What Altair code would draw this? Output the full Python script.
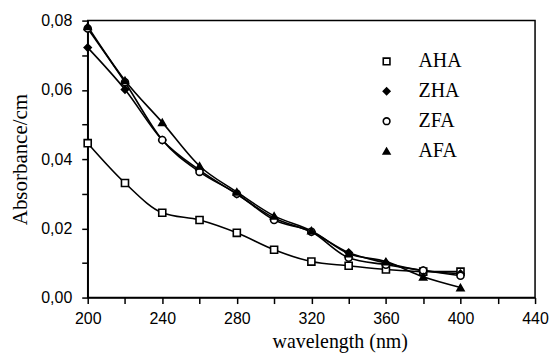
import altair as alt
import pandas as pd

wavelength = [200, 220, 240, 260, 280, 300, 320, 340, 360, 380, 400]
aha = [0.0446, 0.0331, 0.0245, 0.0224, 0.0187, 0.0138, 0.0104, 0.0092, 0.0081, 0.0075, 0.0075]
zha = [0.0722, 0.0601, 0.0455, 0.0368, 0.0299, 0.0230, 0.0190, 0.0130, 0.0100, 0.0078, 0.0069]
zfa = [0.0777, 0.0622, 0.0455, 0.0363, 0.0300, 0.0224, 0.0190, 0.0115, 0.0095, 0.0078, 0.0063]
afa = [0.0783, 0.0627, 0.0506, 0.0380, 0.0305, 0.0236, 0.0193, 0.0127, 0.0104, 0.0060, 0.0029]

series_names = ["AHA", "ZHA", "ZFA", "AFA"]
series_shapes = ["square", "diamond", "circle", "triangle-up"]
series_fills = ["white", "black", "white", "black"]
series_strokes = ["black", "black", "black", "black"]

rows = []
for name, vals in zip(series_names, [aha, zha, zfa, afa]):
    for w, v in zip(wavelength, vals):
        rows.append({"wavelength": w, "absorbance": v, "series": name})
df = pd.DataFrame(rows)

x_ticks = list(range(200, 441, 20))
y_ticks = [0.0, 0.01, 0.02, 0.03, 0.04, 0.05, 0.06, 0.07, 0.08]

x = alt.X("wavelength:Q",
          scale=alt.Scale(domain=[200, 440], nice=False, zero=False),
          axis=alt.Axis(values=x_ticks, title="wavelength (nm)",
                        labelExpr="datum.value % 40 == 0 ? datum.label : ''",
                        labelFlush=False, grid=False, tickSize=6, labelPadding=7,
                        titleFont="Liberation Serif", titleFontSize=20,
                        titleFontWeight="normal", titlePadding=5,
                        titleX=253, titleAlign="center"))
y = alt.Y("absorbance:Q",
          scale=alt.Scale(domain=[0, 0.08], nice=False),
          axis=alt.Axis(values=y_ticks, title="Absorbance/cm",
                        labelExpr="(round(datum.value*100) % 2 == 0) ? replace(format(datum.value, '.2f'), '.', ',') : ''",
                        labelFlush=False, grid=False, tickSize=6, labelPadding=10,
                        titleFont="Liberation Serif", titleFontSize=21,
                        titleFontWeight="normal", titlePadding=10))

legend = alt.Legend(title=None, orient="none", legendX=290, legendY=31,
                    labelFont="Liberation Serif", labelFontSize=20, labelColor="black",
                    symbolSize=45, symbolStrokeWidth=1.6, symbolStrokeColor="black",
                    rowPadding=10, labelOffset=22)

base = alt.Chart(df)

lines = base.mark_line(color="black", strokeWidth=1.6, interpolate="monotone").encode(
    x=x, y=y, detail="series:N")

points = base.mark_point(size=50, strokeWidth=1.6, filled=True, opacity=1).encode(
    x=x, y=y,
    shape=alt.Shape("series:N",
                    scale=alt.Scale(domain=series_names, range=series_shapes),
                    legend=legend),
    fill=alt.Fill("series:N",
                  scale=alt.Scale(domain=series_names, range=series_fills),
                  legend=legend),
    stroke=alt.Stroke("series:N",
                      scale=alt.Scale(domain=series_names, range=series_strokes),
                      legend=legend),
)

chart = alt.layer(lines, points).properties(
    width=449, height=278,
    background="white",
    autosize=alt.AutoSizeParams(type="none"),
    padding={"left": 80, "top": 12, "right": 14, "bottom": 58},
).configure_view(
    stroke="black", strokeWidth=1.5
).configure_axis(
    domainColor="black", domainWidth=1.5, tickColor="black", tickWidth=1.5,
    labelFont="Liberation Sans", labelFontSize=16, labelColor="black",
    titleColor="black"
)

chart.save("out.html", embed_options={"renderer": "svg", "actions": False})
